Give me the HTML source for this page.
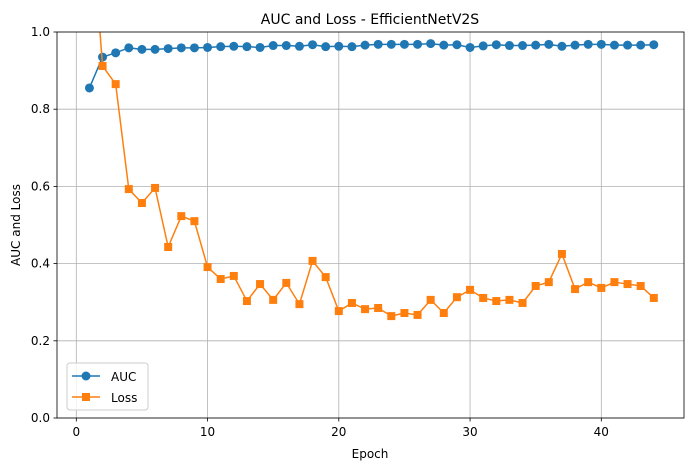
<!DOCTYPE html>
<html><head><meta charset="utf-8"><style>
body{margin:0;background:#fff;font-family:"Liberation Sans","DejaVu Sans",sans-serif}
svg text{font-family:"DejaVu Sans","Liberation Sans",sans-serif}
</style></head><body>
<svg id="chart" width="691" height="470" xmlns="http://www.w3.org/2000/svg">
<defs><clipPath id="clip"><rect x="57" y="32" width="627" height="386"/></clipPath></defs>
<rect width="691" height="470" fill="#fff"/>
<g id="grid"></g>
<g id="series" clip-path="url(#clip)"></g>
<rect x="57" y="32" width="627" height="386" fill="none" stroke="#000" stroke-width="0.8"/>
<g id="ticks"></g>
<text x="370" y="24" text-anchor="middle" font-size="14">AUC and Loss - EfficientNetV2S</text>
<text x="370" y="458" text-anchor="middle" font-size="12">Epoch</text>
<text x="20" y="225" text-anchor="middle" font-size="12" transform="rotate(-90 20 225)">AUC and Loss</text>
<g>
<rect x="67" y="363" width="81" height="47" rx="3" fill="#fff" fill-opacity="0.8" stroke="#ccc"/>
<g>
<line x1="72" y1="376" x2="100" y2="376" stroke="#1f77b4" stroke-width="1.5"/><circle cx="86" cy="376" r="4.5" fill="#1f77b4"/>
<text x="111" y="381" font-size="12">AUC</text></g>
<g>
<line x1="72" y1="397" x2="100" y2="397" stroke="#ff7f0e" stroke-width="1.5"/><rect x="82" y="393" width="8" height="8" fill="#ff7f0e"/>
<text x="111" y="402" font-size="12">Loss</text></g>
</g>
</svg>
<script>
const epochs=[];for(let i=1;i<=44;i++)epochs.push(i);
const auc=[0.855,0.935,0.946,0.959,0.955,0.955,0.957,0.959,0.959,0.960,0.962,0.963,0.962,0.960,0.965,0.965,0.963,0.967,0.962,0.963,0.962,0.966,0.968,0.968,0.968,0.968,0.970,0.966,0.967,0.960,0.964,0.967,0.965,0.965,0.966,0.968,0.963,0.966,0.968,0.968,0.966,0.966,0.966,0.967];
const loss=[1.36,0.912,0.865,0.593,0.557,0.596,0.443,0.523,0.510,0.391,0.360,0.368,0.303,0.347,0.306,0.350,0.295,0.407,0.365,0.277,0.298,0.282,0.285,0.264,0.272,0.267,0.306,0.272,0.313,0.332,0.311,0.303,0.306,0.298,0.342,0.352,0.425,0.334,0.352,0.337,0.352,0.347,0.342,0.311];
const xTicks=[0,10,20,30,40];
const yTicks=[0.0,0.2,0.4,0.6,0.8,1.0];
const NS="http://www.w3.org/2000/svg";
const X=v=>76.3+v*13.125, Y=v=>418-v*386;
function mk(t,a,p){const e=document.createElementNS(NS,t);for(const k in a)e.setAttribute(k,a[k]);p.appendChild(e);return e;}
const grid=document.getElementById('grid'),ticks=document.getElementById('ticks'),ser=document.getElementById('series');
xTicks.forEach(t=>{
 const g=mk('line',{x1:X(t),x2:X(t),y1:32,y2:418,stroke:'#b0b0b0','stroke-width':0.8},grid);
 
 
 mk('line',{x1:X(t),x2:X(t),y1:418,y2:421.5,stroke:'#000','stroke-width':0.8},ticks);
 const l=mk('text',{x:X(t),y:436,'text-anchor':'middle','font-size':12},ticks);l.textContent=t;
 
 
});
yTicks.forEach(t=>{
 const g=mk('line',{x1:57,x2:684,y1:Y(t),y2:Y(t),stroke:'#b0b0b0','stroke-width':0.8},grid);
 
 
 mk('line',{x1:53.5,x2:57,y1:Y(t),y2:Y(t),stroke:'#000','stroke-width':0.8},ticks);
 const l=mk('text',{x:50,y:Y(t)+4,'text-anchor':'end','font-size':12},ticks);l.textContent=t.toFixed(1);
 
 
});
function series(vals,color,shape,name){
 const pl=mk('polyline',{points:vals.map((v,i)=>X(epochs[i])+','+Y(v)).join(' '),fill:'none',stroke:color,'stroke-width':1.5},ser);
 
 
 vals.forEach((v,i)=>{
  let m;
  if(shape==='c')m=mk('circle',{cx:X(epochs[i]),cy:Y(v),r:4.5,fill:color},ser);
  else m=mk('rect',{x:X(epochs[i])-4,y:Y(v)-4,width:8,height:8,fill:color},ser);
  
  
 });
}
series(auc,'#1f77b4','c','auc');
series(loss,'#ff7f0e','s','loss');
</script>
</body></html>
